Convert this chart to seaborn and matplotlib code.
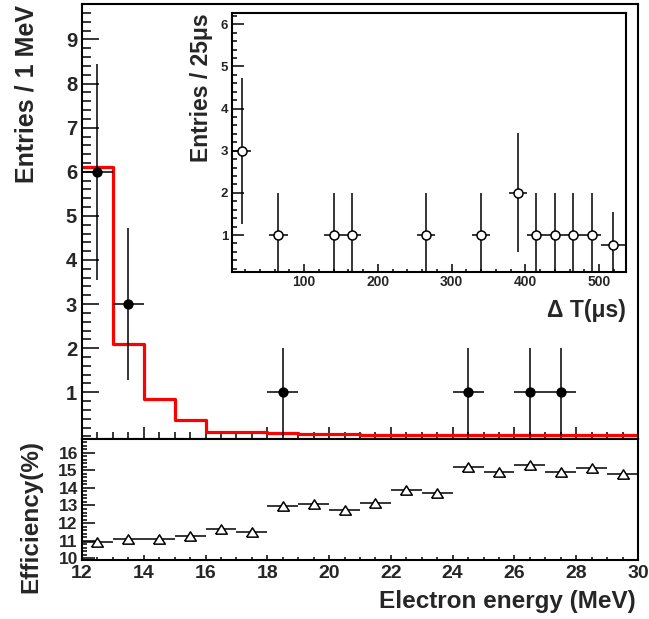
import matplotlib
matplotlib.use("Agg")
import matplotlib.pyplot as plt
from matplotlib.ticker import MultipleLocator, NullFormatter
import pandas as pd
import seaborn as sns

# ---------------- data ----------------
# main panel: observed events per 1 MeV
energy_centers = [12.5, 13.5, 18.5, 24.5, 26.5, 27.5]
entries = [6, 3, 1, 1, 1, 1]
entries_err = [2.45, 1.73, 1.0, 1.0, 1.0, 1.0]

# expected spectrum (red histogram), 1 MeV bins from 12 to 30
hist_edges = [12, 13, 14, 15, 16, 17, 18, 19, 20, 21, 22, 23, 24, 25, 26, 27, 28, 29, 30]
hist_values = [6.12, 2.10, 0.84, 0.37, 0.10, 0.09, 0.08, 0.05, 0.05, 0.04,
               0.04, 0.04, 0.03, 0.03, 0.03, 0.03, 0.03, 0.03]

# inset: Delta T distribution (25 us bins)
dt_centers = [15, 65, 140, 165, 265, 340, 390, 415, 440, 465, 490, 519.5]
dt_entries = [3, 1, 1, 1, 1, 1, 2, 1, 1, 1, 1, 0.77]
dt_yerr = [1.73, 1, 1, 1, 1, 1, 1.41, 1, 1, 1, 1, 0.77]
dt_xerr = [12.5, 12.5, 12.5, 12.5, 12.5, 12.5, 12.5, 12.5, 12.5, 12.5, 12.5, 17]

# lower panel: efficiency (%) per 1 MeV bin
eff_centers = [12.5, 13.5, 14.5, 15.5, 16.5, 17.5, 18.5, 19.5, 20.5,
               21.5, 22.5, 23.5, 24.5, 25.5, 26.5, 27.5, 28.5, 29.5]
efficiency = [10.95, 11.12, 11.12, 11.27, 11.65, 11.48, 12.95, 13.10, 12.75,
              13.14, 13.88, 13.69, 15.17, 14.92, 15.32, 14.92, 15.15, 14.81]

main_yticks = [1, 2, 3, 4, 5, 6, 7, 8, 9]
eff_yticks = [10, 11, 12, 13, 14, 15, 16]
energy_xticks = [12, 14, 16, 18, 20, 22, 24, 26, 28, 30]
dt_xticks = [100, 200, 300, 400, 500]
dt_yticks = [1, 2, 3, 4, 5, 6]

# ---------------- style ----------------
sns.set_style("white")
plt.rcParams["font.family"] = ["Liberation Sans", "DejaVu Sans"]
plt.rcParams["font.weight"] = "bold"
plt.rcParams["axes.labelweight"] = "bold"

W, H = 649, 619
fig = plt.figure(figsize=(W / 100, H / 100), dpi=100)


def rect(left, top, right, bottom):
    return [left / W, (H - bottom) / H, (right - left) / W, (bottom - top) / H]


ax = fig.add_axes(rect(82, 4, 638, 438.5))
axb = fig.add_axes(rect(82, 438.5, 638, 560))
axi = fig.add_axes(rect(232.3, 12.7, 626, 272.3))

for a in (ax, axb, axi):
    a.set_facecolor("white")
    for s in a.spines.values():
        s.set_linewidth(1.5)
        s.set_color("black")
        s.set_visible(True)
    a.tick_params(axis="both", which="both", direction="in", bottom=True, left=True,
                  top=False, right=False, width=1.1, color="black")

# ---------------- main panel ----------------
df_hist = pd.DataFrame({"E": hist_edges, "N": hist_values + [hist_values[-1]]})
sns.lineplot(data=df_hist, x="E", y="N", ax=ax, color="#ff0000", lw=2.3,
             drawstyle="steps-post", estimator=None, sort=False, zorder=2)

ax.errorbar(energy_centers, entries, yerr=entries_err, xerr=0.5, fmt="none",
            ecolor="black", elinewidth=1.1, capsize=0, zorder=3)
df_main = pd.DataFrame({"E": energy_centers, "N": entries})
sns.scatterplot(data=df_main, x="E", y="N", ax=ax, color="black", s=55,
                edgecolor="black", linewidth=0, marker="o", zorder=4)

ax.set_xlim(12, 30)
ax.set_ylim(-0.048, 9.805)
ax.set_xticks(energy_xticks)
ax.xaxis.set_minor_locator(MultipleLocator(0.5))
ax.xaxis.set_major_formatter(NullFormatter())
ax.set_yticks(main_yticks)
ax.yaxis.set_minor_locator(MultipleLocator(0.2))
ax.tick_params(axis="y", which="major", length=12, pad=3.5, labelsize=14.5)
ax.tick_params(axis="y", which="minor", length=6.5)
ax.tick_params(axis="x", which="major", length=9)
ax.tick_params(axis="x", which="minor", length=4.8)
ax.set_xlabel("")
ax.set_ylabel("Entries / 1 MeV", fontsize=18, fontweight="bold", loc="top")
ax.yaxis.set_label_coords(-0.079, 0.998)

# ---------------- lower efficiency panel ----------------
axb.errorbar(eff_centers, efficiency, xerr=0.5, fmt="none", ecolor="black",
             elinewidth=1.1, capsize=0, zorder=3)
df_eff = pd.DataFrame({"E": eff_centers, "eff": efficiency})
tri = [(-1, -0.8), (1, -0.8), (0, 0.8), (-1, -0.8)]
sns.scatterplot(data=df_eff, x="E", y="eff", ax=axb, marker=tri, s=70,
                facecolor="white", edgecolor="black", linewidth=1.1, zorder=4)
axb.set_xlim(12, 30)
axb.set_ylim(9.903, 16.807)
axb.set_xticks(energy_xticks)
axb.xaxis.set_minor_locator(MultipleLocator(0.5))
axb.set_yticks(eff_yticks)
axb.yaxis.set_minor_locator(MultipleLocator(0.2))
axb.tick_params(axis="x", which="major", length=3.6, pad=3.5, labelsize=14)
axb.tick_params(axis="x", which="minor", length=2.2)
axb.tick_params(axis="y", which="major", length=9.5, pad=3, labelsize=12.5)
axb.tick_params(axis="y", which="minor", length=3.6)
axb.set_xlabel("Electron energy (MeV)", fontsize=17.5, fontweight="bold", loc="right")
axb.xaxis.set_label_coords(0.9964, -0.248)
axb.set_ylabel("Efficiency(%)", fontsize=17.5, fontweight="bold", loc="top")
axb.yaxis.set_label_coords(-0.072, 0.99)

# ---------------- inset ----------------
axi.errorbar(dt_centers, dt_entries, yerr=dt_yerr, xerr=dt_xerr, fmt="none",
             ecolor="black", elinewidth=1.1, capsize=0, zorder=3)
df_dt = pd.DataFrame({"dT": dt_centers, "N": dt_entries})
sns.scatterplot(data=df_dt, x="dT", y="N", ax=axi, marker="o", s=42,
                facecolor="white", edgecolor="black", linewidth=1.1, zorder=4)
axi.set_xlim(2.5, 536.5)
axi.set_ylim(0.115, 6.275)
axi.set_xticks(dt_xticks)
axi.xaxis.set_minor_locator(MultipleLocator(20))
axi.set_yticks(dt_yticks)
axi.yaxis.set_minor_locator(MultipleLocator(0.2))
axi.tick_params(axis="x", which="major", length=5.8, pad=2, labelsize=10)
axi.tick_params(axis="x", which="minor", length=2.2)
axi.tick_params(axis="y", which="major", length=8.6, pad=3, labelsize=9.5)
axi.tick_params(axis="y", which="minor", length=3.6)
axi.set_xlabel("Δ T(μs)", fontsize=16.5, fontweight="bold", loc="right")
axi.xaxis.set_label_coords(1.0, -0.103)
axi.set_ylabel("Entries / 25μs", fontsize=16.5, fontweight="bold", loc="top")
axi.yaxis.set_label_coords(-0.049, 0.996)

for a in (ax, axb, axi):
    for lab in a.get_xticklabels() + a.get_yticklabels():
        lab.set_fontweight("bold")

fig.savefig("out.png", dpi=100)
